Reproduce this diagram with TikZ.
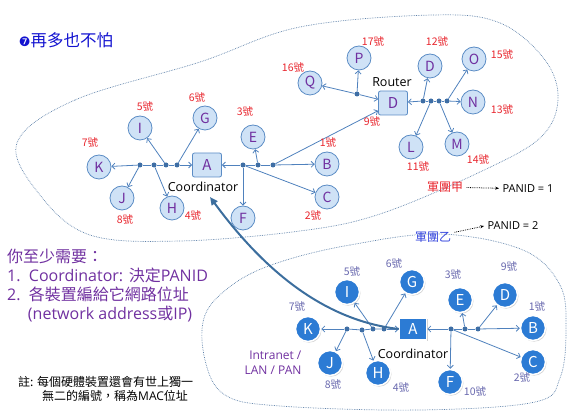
\documentclass[tikz,border=0pt]{standalone}
\usepackage{fontspec}
\setmainfont{Noto Sans CJK TC}
\newfontfamily\symfont{DejaVu Sans}
\newfontfamily\latin{Open Sans}
\usepackage{tikz}
\usepackage{xcolor}
\usetikzlibrary{arrows.meta,shadows}
\definecolor{devfill}{HTML}{CFE2F6}
\definecolor{devline}{HTML}{5B8CC5}
\definecolor{devtext}{HTML}{7030A0}
\definecolor{wireblue}{HTML}{4F81BD}
\definecolor{dotblue}{HTML}{3E6EA5}
\definecolor{numred}{HTML}{E8262E}
\definecolor{numblue}{HTML}{6868AE}
\definecolor{devblue}{HTML}{2C7BD4}
\definecolor{cloudline}{HTML}{5F82AA}
\definecolor{titleblue}{HTML}{1212D0}
\definecolor{bigarrow}{HTML}{3C6E9E}
\definecolor{tagblue}{HTML}{3344DD}
\newcommand\fsz[2]{\fontsize{#1}{#2}\selectfont}

\begin{document}
\begin{tikzpicture}[x=1pt,y=-1pt,>={Straight Barb[length=3pt,width=6pt]},
    every node/.style={font=\fsz{10}{12}}]
    \tikzstyle{dev}=[circle,draw=devline,fill=devfill,thick,minimum size=24pt,
                     inner sep=0pt,text=devtext,font=\fsz{14}{14}];
    \tikzstyle{hub}=[rounded corners=2pt,draw=devline,fill=devfill,thick,minimum width=29pt,
                     minimum height=24pt,inner sep=0pt,text=devtext,font=\fsz{15}{15}];
    \tikzstyle{dev2}=[circle,draw=white,line width=1.5pt,fill=devblue,minimum size=25pt,
                      inner sep=0pt,text=white,font=\fsz{15}{15},
                      drop shadow={opacity=0.35,shadow xshift=1pt,shadow yshift=-1.2pt}];
    \tikzstyle{hub2}=[draw=white,line width=1.5pt,fill=devblue,minimum width=27pt,
                      minimum height=22pt,inner sep=0pt,text=white,font=\fsz{15}{15},
                      drop shadow={opacity=0.35,shadow xshift=1pt,shadow yshift=-1.2pt}];
    \tikzstyle{jn}=[circle,fill=dotblue,inner sep=0pt,minimum size=5pt];
    \tikzstyle{wire}=[draw=wireblue,line width=0.8pt];
    \tikzstyle{num}=[text=numred,font=\fsz{10.5}{10.5}];
    \tikzstyle{num2}=[text=numblue,font=\fsz{10.5}{10.5}];
    \tikzstyle{cloud}=[draw=cloudline,densely dotted,line width=0.7pt];
    \tikzstyle{role}=[font=\latin\fsz{12.5}{12.5}];

    \useasboundingbox (0,0) rectangle (576,419);

    % the two PANs
    \draw[cloud] plot[smooth cycle,tension=0.6] coordinates {(17,143) (75,100) (200,62) (300,27)
        (433,15) (500,23) (545,60) (558,100) (540,138) (480,172) (380,214) (300,231)
        (180,241) (90,235) (40,195)};
    \draw[cloud] plot[smooth cycle,tension=0.6] coordinates {(280,262) (350,245) (440,234)
        (523,250) (560,285) (566,330) (560,378) (535,402) (420,410) (280,406) (225,395)
        (205,360) (205,315) (235,283)};

    \node[text=titleblue,font=\fsz{16.5}{16.5}] (title) at (66,40) {{\symfont\fsz{13}{13}❼}再多也不怕};

    % top: coordinator star
    \node[hub] (A) at (207,165) {A};
    \node[role] (coord) at (203,187) {Coordinator};
    \node[dev] (K) at (99,167) {K};
    \node[dev] (I) at (140,128) {I};
    \node[dev] (G) at (205,118) {G};
    \node[dev] (E) at (253,137) {E};
    \node[dev] (B) at (327,164) {B};
    \node[dev] (C) at (327,197) {C};
    \node[dev] (J) at (122,198) {J};
    \node[dev] (H) at (172,208) {H};
    \node[dev] (F) at (243,218) {F};
    \node[jn] (ua1) at (140,165) {};
    \node[jn] (ua2) at (154,165) {};
    \node[jn] (ua3) at (166,165) {};
    \node[jn] (ua4) at (177,165) {};
    \node[jn] (ub1) at (243,165) {};
    \node[jn] (ub2) at (258,165) {};
    \node[jn] (ub3) at (273,165) {};
    \draw[wire,->] (ua1) -- (K);
    \draw[wire] (ua1) -- (ua2) -- (ua3) -- (ua4);
    \draw[wire,->] (ua4) -- (A);
    \draw[wire,->] (ua1) -- (J);
    \draw[wire,->] (ua2) -- (H);
    \draw[wire,->] (ua3) -- (I);
    \draw[wire,->] (ua4) -- (G);
    \draw[wire,->] (ub1) -- (A);
    \draw[wire] (ub1) -- (ub2) -- (ub3);
    \draw[wire,->] (ub3) -- (B);
    \draw[wire,->] (ub1) -- (F);
    \draw[wire,->] (ub1) -- (C);
    \draw[wire,->] (ub2) -- (E);

    % top: router star
    \node[hub] (R) at (393,103) {D};
    \node[role] (rlab) at (392,82) {Router};
    \node[dev] (Q) at (310,83) {Q};
    \node[dev] (P) at (359,58) {P};
    \node[dev] (D) at (430,66) {D};
    \node[dev] (O) at (474,59) {O};
    \node[dev] (N) at (473,102) {N};
    \node[dev] (M) at (457,144) {M};
    \node[dev] (L) at (411,147) {L};
    \node[jn] (rq) at (357,94) {};
    \node[jn] (rd1) at (423,101) {};
    \node[jn] (rd2) at (431,101) {};
    \node[jn] (rd3) at (439,101) {};
    \node[jn] (rd4) at (447,101) {};
    \draw[wire,->] (ub3) -- (R);
    \draw[wire,->] (rq) -- (Q);
    \draw[wire,->] (rq) -- (R);
    \draw[wire,->] (rq) -- (P);
    \draw[wire,->] (rd1) -- (R);
    \draw[wire] (rd1) -- (rd2) -- (rd3) -- (rd4);
    \draw[wire,->] (rd4) -- (N);
    \draw[wire,->] (rd1) -- (D);
    \draw[wire,->] (rd2) -- (L);
    \draw[wire,->] (rd3) -- (M);
    \draw[wire,->] (rd4) -- (O);

    % top: addresses
    \node[num] (nK) at (90,143) {7號};
    \node[num] (nI) at (145,107) {5號};
    \node[num] (nG) at (197,98) {6號};
    \node[num] (nE) at (245,112) {3號};
    \node[num] (nB) at (328,143) {1號};
    \node[num] (nC) at (313,216) {2號};
    \node[num] (nJ) at (125,220) {8號};
    \node[num] (nH) at (193,216) {4號};
    \node[num] (nQ) at (293,68) {16號};
    \node[num] (nP) at (373,42) {17號};
    \node[num] (nR) at (372,122) {9號};
    \node[num] (nD) at (437,42) {12號};
    \node[num] (nO) at (502,55) {15號};
    \node[num] (nN) at (502,110) {13號};
    \node[num] (nM) at (478,160) {14號};
    \node[num] (nL) at (418,167) {11號};

    % PAN ids
    \node[text=numred,font=\fsz{12}{12}] (tagA) at (445,187) {軍團甲};
    \node[font=\latin\fsz{11}{11}] (pan1) at (528,189) {PANID = 1};
    \draw[densely dotted,thick,-{Stealth[length=4pt]}] (tagA) -- (pan1);
    \node[text=tagblue,font=\fsz{12}{12}] (tagB) at (433,237) {軍團乙};
    \node[font=\latin\fsz{11}{11}] (pan2) at (513,226) {PANID = 2};
    \draw[densely dotted,thick,-{Stealth[length=4pt]}] (tagB) -- (pan2.west);

    % left notes
    \node[text=devtext,font=\fsz{16}{19},align=left,anchor=north west,inner sep=0pt] (need)
        at (7,249) {你至少需要：\\{\latin 1.\ \ Coordinator: }決定{\latin PANID}\\{\latin 2.\ \ }各裝置編給它網路位址\\
        \hspace{1.3em}{\latin (network address}或{\latin IP)}};
    \node[font=\fsz{12}{14.5},align=left,anchor=north west,inner sep=0pt] (mac)
        at (18,376) {註: 每個硬體裝置還會有世上獨一\\\hspace{2em}無二的編號，稱為{\latin MAC}位址};
    \node[text=devtext,font=\latin\fsz{12}{15},align=right] (lan) at (273,363) {Intranet /\\LAN / PAN};

    % bottom: one PAN again
    \node[hub2] (A2) at (413,329) {A};
    \node[role] (coord2) at (413,354) {Coordinator};
    \node[dev2] (K2) at (308,329) {K};
    \node[dev2] (I2) at (347,292) {I};
    \node[dev2] (G2) at (412,282) {G};
    \node[dev2] (E2) at (460,300) {E};
    \node[dev2] (D2) at (505,295) {D};
    \node[dev2] (B2) at (533,328) {B};
    \node[dev2] (C2) at (533,362) {C};
    \node[dev2] (J2) at (330,363) {J};
    \node[dev2] (H2) at (378,373) {H};
    \node[dev2] (F2) at (450,382) {F};
    \node[jn] (la1) at (347,329) {};
    \node[jn] (la2) at (362,330) {};
    \node[jn] (la3) at (373,329) {};
    \node[jn] (la4) at (384,329) {};
    \node[jn] (lb1) at (451,329) {};
    \node[jn] (lb2) at (465,329) {};
    \node[jn] (lb3) at (478,329) {};
    \draw[wire,->] (la1) -- (K2);
    \draw[wire] (la1) -- (la2) -- (la3) -- (la4);
    \draw[wire,->] (la4) -- (A2);
    \draw[wire,->] (la1) -- (J2);
    \draw[wire,->] (la2) -- (H2);
    \draw[wire,->] (la3) -- (I2);
    \draw[wire,->] (la4) -- (G2);
    \draw[wire,->] (lb1) -- (A2);
    \draw[wire] (lb1) -- (lb2) -- (lb3);
    \draw[wire,->] (lb3) -- (B2);
    \draw[wire,->] (lb1) -- (F2);
    \draw[wire,->] (lb1) -- (C2);
    \draw[wire,->] (lb2) -- (E2);
    \draw[wire,->] (lb3) -- (D2);
    \node[num2] (mK) at (297,307) {7號};
    \node[num2] (mI) at (352,272) {5號};
    \node[num2] (mG) at (394,264) {6號};
    \node[num2] (mE) at (453,275) {3號};
    \node[num2] (mD) at (509,267) {9號};
    \node[num2] (mB) at (537,307) {1號};
    \node[num2] (mC) at (522,378) {2號};
    \node[num2] (mJ) at (333,385) {8號};
    \node[num2] (mH) at (401,388) {4號};
    \node[num2] (mF) at (475,392) {10號};

    % zoom link
    \coordinate (up) at (210,197);
    \draw[bigarrow,line width=2pt,-{Triangle[length=8pt,width=7pt]}] (A2.west)
        .. controls (320,320) and (260,265) .. (up);
\end{tikzpicture}
\end{document}
